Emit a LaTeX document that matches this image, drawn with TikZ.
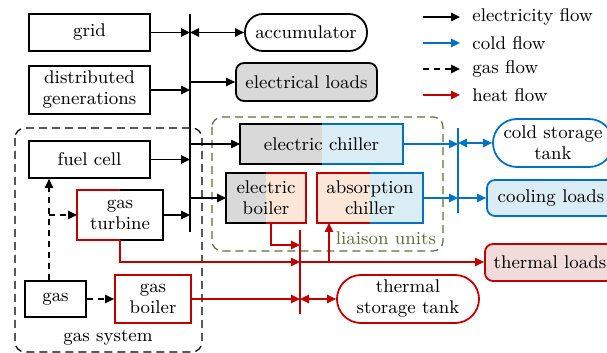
\documentclass[tikz,border=0pt]{standalone}
\usetikzlibrary{arrows.meta,calc}

\definecolor{cblue}{RGB}{0,114,198}
\definecolor{hred}{RGB}{192,0,0}
\definecolor{lgray}{RGB}{217,217,217}
\definecolor{lblue}{RGB}{218,236,244}
\definecolor{peach}{RGB}{252,230,216}
\definecolor{lpink}{RGB}{242,220,219}
\definecolor{olivegrn}{RGB}{90,112,55}

\tikzset{
  unit/.style={draw,line width=0.9pt,align=center,inner sep=0pt},
  halffill/.style 2 args={path picture={
      \fill[#1] (path picture bounding box.south west) rectangle (path picture bounding box.north);
      \fill[#2] (path picture bounding box.south) rectangle (path picture bounding box.north east);}},
  frame/.style={line width=0.6pt,dash pattern=on 4pt off 2.5pt,rounded corners=5pt},
  bus/.style={line width=1.3pt},
  elec/.style={line width=0.75pt,black},
  cold/.style={line width=0.75pt,cblue},
  gas/.style={line width=0.75pt,black,dash pattern=on 3pt off 2.5pt},
  heat/.style={line width=0.75pt,hred},
}
% border of a box in two colours
\newcommand{\halfframe}[3]{%
  \draw[#2,line width=0.9pt] (#1.north) -| (#1.south west) -- (#1.south);
  \draw[#3,line width=0.9pt] (#1.north) -| (#1.south east) -- (#1.south);}

\begin{document}
\begin{tikzpicture}[x=0.5pt,y=-0.5pt,font=\fontsize{9.2}{10.5}\selectfont,
    >={Triangle[length=4.5pt,width=4.2pt]}]
  \clip (0,0) rectangle (607,353);
  % subsystems
  \draw[frame] (15,128) rectangle (202,352);
  \node (gsys) at (108,338) {gas system};
  \draw[frame,olivegrn] (212,117) rectangle (443,251);
  \node[text=olivegrn] (lu) at (386,238) {liaison units};

  % sources
  \node[unit,minimum width=60.5pt,minimum height=18.5pt] (grid) at (89.5,32.5) {grid};
  \node[unit,minimum width=60.5pt,minimum height=24pt] (dg) at (89.5,90) {distributed\\generations};
  \node[unit,minimum width=60.5pt,minimum height=18.5pt] (fc) at (89.5,159.5) {fuel cell};
  \node[unit,draw=none,minimum width=42pt,minimum height=24pt] (gt) at (120,215) {gas\\turbine};
  \halfframe{gt}{hred}{black}
  \node[unit,minimum width=30.5pt,minimum height=18pt] (gas) at (55.5,299) {gas};
  \node[unit,draw=hred,minimum width=38pt,minimum height=24pt] (gb) at (153,299) {gas\\boiler};

  % storages and loads
  \node[unit,rounded corners=9pt,minimum width=61pt,minimum height=18.5pt] (acc) at (306,32.5) {accumulator};
  \node[unit,fill=lgray,rounded corners=4pt,minimum width=70.5pt,minimum height=19pt] (el) at (306.5,82) {electrical loads};
  \node[unit,draw=cblue,rounded corners=12pt,minimum width=60pt,minimum height=24pt] (cst) at (553,143) {cold storage\\tank};
  \node[unit,draw=cblue,fill=lblue,rounded corners=4pt,minimum width=64pt,minimum height=18pt] (cl) at (551,198) {cooling loads};
  \node[unit,draw=hred,fill=lpink,rounded corners=4pt,minimum width=65pt,minimum height=18.5pt] (tl) at (550,262.5) {thermal loads};
  \node[unit,draw=hred,rounded corners=12pt,minimum width=71pt,minimum height=24pt] (tst) at (408,299) {thermal\\storage tank};

  % liaison units
  \node[unit,draw=none,halffill={lgray}{lblue},minimum width=80.5pt,minimum height=19pt] (ec) at (321.5,144) {electric chiller};
  \halfframe{ec}{black}{cblue}
  \node[unit,draw=none,halffill={lgray}{peach},minimum width=39pt,minimum height=24pt] (eboil) at (266,198) {electric\\boiler};
  \halfframe{eboil}{black}{hred}
  \node[unit,draw=none,halffill={peach}{lblue},minimum width=52pt,minimum height=24pt] (ac) at (370,198) {absorption\\chiller};
  \halfframe{ac}{hred}{cblue}

  % buses
  \coordinate (et) at (190,14);  \coordinate (eb) at (190,232);
  \coordinate (ct) at (458,128); \coordinate (cb) at (458,213);
  \coordinate (ht) at (300,230); \coordinate (hb) at (300,314);
  \draw[bus] (et) -- (eb);
  \draw[bus,cblue] (ct) -- (cb);
  \draw[bus,hred] (ht) -- (hb);

  % electricity
  \draw[elec,->] (grid) -- (grid -| et);
  \draw[elec,<->] (acc -| et) -- (acc);
  \draw[elec,->] (dg) -- (dg -| et);
  \draw[elec,->] (el -| et) -- (el);
  \draw[elec,->] (fc) -- (fc -| et);
  \draw[elec,->] (ec -| et) -- (ec);
  \draw[elec,->] (eboil -| et) -- (eboil);
  \draw[elec,->] (gt) -- (gt -| et);

  % gas
  \coordinate (gs) at (49,215);
  \draw[gas,->] (gas.north -| gs) -- (fc.south -| gs);
  \draw[gas,->] (gs) -- (gt.west);
  \draw[gas,->] (gas) -- (gb);

  % cold
  \draw[cold,->] (ec) -- (ec -| ct);
  \draw[cold,<->] (cst -| ct) -- (cst);
  \draw[cold,->] (ac) -- (ac -| ct);
  \draw[cold,->] (cl -| ct) -- (cl);

  % heat
  \coordinate (h1) at (300,245);
  \coordinate (h2) at (300,262);
  \coordinate (h3) at (329,262);
  \draw[heat,->] ([xshift=2.5pt]eboil.south) |- (h1);
  \draw[heat,->] (gt.south) |- (h2);
  \draw[heat,->] (h2) -- (h2 -| tl.west);
  \draw[heat,->] (h3) -- (h3 |- ac.south);
  \draw[heat,->] (gb) -- (gb -| ht);
  \draw[heat,<->] (tst -| ht) -- (tst);

  % legend
  \foreach \y/\s/\t [count=\i] in {17/elec/electricity flow,43/cold/cold flow,69/gas/gas flow,95/heat/heat flow}{
    \coordinate (ls\i) at (423,\y);
    \node[anchor=west,inner xsep=6pt] (lg\i) at (460,\y) {\t};
    \draw[\s,->] (ls\i) -- (lg\i.west);
  }
\end{tikzpicture}
\end{document}
